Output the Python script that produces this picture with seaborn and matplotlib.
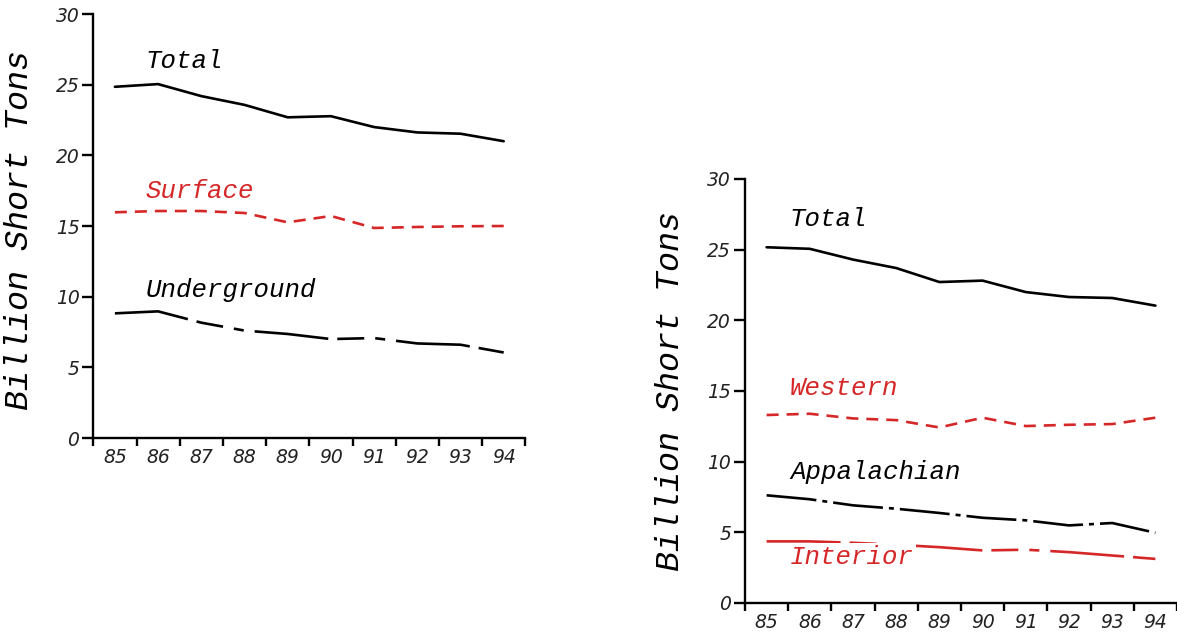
import numpy as np
import pandas as pd
import matplotlib
matplotlib.use("Agg")
import matplotlib.pyplot as plt
import seaborn as sns

# ---- data ----
years = ["85", "86", "87", "88", "89", "90", "91", "92", "93", "94"]

left_total = [24.85, 25.04, 24.19, 23.57, 22.69, 22.77, 22.0, 21.62, 21.53, 21.0]
left_surface = [15.97, 16.06, 16.06, 15.92, 15.26, 15.71, 14.86, 14.93, 14.98, 15.0]
left_underground = [8.82, 8.96, 8.16, 7.6, 7.36, 7.0, 7.07, 6.69, 6.6, 6.05]

right_total = [25.17, 25.06, 24.3, 23.7, 22.71, 22.81, 22.0, 21.65, 21.58, 21.04]
right_western = [13.3, 13.39, 13.06, 12.94, 12.42, 13.11, 12.52, 12.61, 12.66, 13.11]
right_appalachian = [7.62, 7.34, 6.91, 6.67, 6.37, 6.03, 5.85, 5.49, 5.66, 4.97]
right_interior = [4.36, 4.36, 4.26, 4.12, 3.95, 3.72, 3.77, 3.6, 3.36, 3.12]

left_names = ["Total", "Surface", "Underground"]
right_names = ["Total", "Western", "Appalachian", "Interior"]

y_ticks = [0, 5, 10, 15, 20, 25, 30]
ylabel = "Billion Short Tons"

RED = "#d62728"
BLACK = "#000000"
LW = 1.9
# dash patterns (in units of linewidth)
def px(*vals):
    return tuple(v * 0.72 / LW for v in vals)

dash_solid = ""
dash_even = px(12, 8)
dash_long = px(74, 9, 27, 11, 10, 11)
dash_dot = px(50, 6, 5, 6)

mono = ["Liberation Mono", "DejaVu Sans Mono"]

sns.set_theme(style="white")
plt.rcParams["font.family"] = ["DejaVu Sans"]

fig = plt.figure(figsize=(11.77, 6.34), dpi=100)
axL = fig.add_axes([93.3 / 1177, (634 - 438) / 634, 432 / 1177, 424 / 634])
axR = fig.add_axes([745 / 1177, (634 - 603) / 634, 432 / 1177, 424 / 634])


def make_df(names, series):
    rows = []
    for n, vals in zip(names, series):
        for i, v in enumerate(vals):
            rows.append({"x": i, "y": v, "series": n})
    return pd.DataFrame(rows)


dfL = make_df(left_names, [left_total, left_surface, left_underground])
dfR = make_df(right_names, [right_total, right_western, right_appalachian, right_interior])

sns.lineplot(data=dfL, x="x", y="y", hue="series", style="series", ax=axL,
             palette={"Total": BLACK, "Surface": RED, "Underground": BLACK},
             dashes={"Total": dash_solid, "Surface": dash_even, "Underground": dash_long},
             linewidth=LW, legend=False, zorder=2)
sns.lineplot(data=dfR, x="x", y="y", hue="series", style="series", ax=axR,
             palette={"Total": BLACK, "Western": RED, "Appalachian": BLACK, "Interior": RED},
             dashes={"Total": dash_solid, "Western": dash_even, "Appalachian": dash_dot,
                     "Interior": dash_long},
             linewidth=LW, legend=False, zorder=2)


def style_axis(ax, ylab_x, ylab_y):
    ax.set_xlim(-0.5, 9.5)
    ax.set_ylim(0, 30)
    ax.set_facecolor("none")
    for s in ["top", "right"]:
        ax.spines[s].set_visible(False)
    for s in ["left", "bottom"]:
        ax.spines[s].set_color("black")
        ax.spines[s].set_linewidth(1.7)
    ax.set_xticks(np.arange(-0.5, 10, 1))
    ax.set_xticklabels([])
    ax.set_xticks(range(len(years)), minor=True)
    ax.set_xticklabels(years, minor=True, fontsize=13.5, style="italic", color="#222222")
    ax.tick_params(axis="x", which="major", direction="out", length=6, width=1.7,
                   color="black", bottom=True)
    ax.tick_params(axis="x", which="minor", length=0, pad=7, bottom=True)
    ax.set_yticks(y_ticks)
    ax.set_yticklabels([str(t) for t in y_ticks], fontsize=13.5, style="italic", color="#222222")
    ax.tick_params(axis="y", direction="out", length=8, width=1.7, color="black", pad=2, left=True)
    ax.set_xlabel("")
    ax.set_ylabel(ylabel, fontsize=24, family=mono, style="italic", color="black")
    ax.yaxis.set_label_coords(ylab_x, ylab_y)
    ax.grid(False)
    for sp in ax.spines.values():
        sp.set_clip_on(False)


style_axis(axL, -0.134, 0.49)
style_axis(axR, -0.136, 0.50)

lab_kw = dict(fontsize=18.5, family=mono, style="italic", va="center", ha="left")
axL.text(0.70, 26.7, "Total", color=BLACK, **lab_kw)
axL.text(0.70, 17.5, "Surface", color=RED, **lab_kw)
axL.text(0.70, 10.5, "Underground", color=BLACK, **lab_kw)

axR.text(0.54, 27.2, "Total", color=BLACK, **lab_kw)
axR.text(0.54, 15.2, "Western", color=RED, **lab_kw)
axR.text(0.54, 9.27, "Appalachian", color=BLACK, **lab_kw)
axR.text(0.54, 3.25, "Interior", color=RED, zorder=5,
         bbox=dict(facecolor="white", edgecolor="none", pad=1.5), **lab_kw)

fig.savefig("out.png", dpi=100)
